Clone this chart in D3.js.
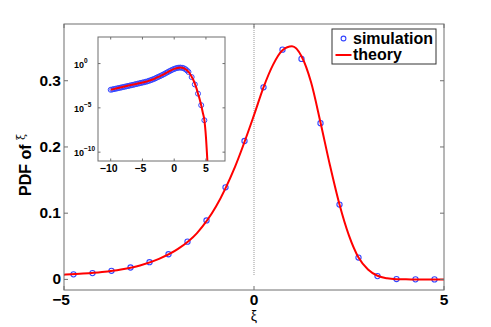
<!DOCTYPE html>
<html>
<head>
<meta charset="utf-8">
<script src="https://cdn.jsdelivr.net/npm/d3@7"></script>
<style>
  body { margin: 0; background: #fff; }
  text { font-family: "Liberation Sans", Arial, sans-serif; }
</style>
</head>
<body>
<div id="chart"></div>
<script>
// theory curve
const theoryXi = [-10, -9, -8, -7, -6, -5, -4.5, -4, -3.5, -3, -2.5, -2, -1.5, -1, -0.5, 0, 0.25, 0.5, 0.75, 1, 1.25, 1.5, 1.75, 2, 2.25, 2.5, 2.75, 3, 3.25, 3.5, 3.75, 4, 4.25, 4.5, 4.75, 5, 5.25];
const theoryPdf = [0.0011, 0.0016, 0.0024, 0.0035, 0.005, 0.0072, 0.0088, 0.0112, 0.015, 0.021, 0.031, 0.046, 0.07, 0.11, 0.17, 0.248, 0.29, 0.324, 0.346, 0.352, 0.337, 0.298, 0.237, 0.172, 0.113, 0.066, 0.033, 0.015, 0.0055, 0.0017, 4e-4, 1e-4, 2e-5, 3e-6, 4e-7, 5e-9, 5e-12];

// simulation, main panel
const simXi = [-4.75, -4.25, -3.75, -3.25, -2.75, -2.25, -1.75, -1.25, -0.75, -0.25, 0.25, 0.75, 1.25, 1.75, 2.25, 2.75, 3.25, 3.75, 4.25, 4.75];
const simPdf = [0.0076, 0.0095, 0.013, 0.018, 0.026, 0.038, 0.057, 0.089, 0.139, 0.209, 0.29, 0.347, 0.333, 0.236, 0.113, 0.033, 0.005, 0.0005, 0.0001, 0.00001];

// simulation, inset (log scale)
const insetXi = [-10, -9.75, -9.5, -9.25, -9, -8.75, -8.5, -8.25, -8, -7.75, -7.5, -7.25, -7, -6.75, -6.5, -6.25, -6, -5.75, -5.5, -5.25, -5, -4.75, -4.5, -4.25, -4, -3.75, -3.5, -3.25, -3, -2.75, -2.5, -2.25, -2, -1.75, -1.5, -1.25, -1, -0.75, -0.5, -0.25, 0, 0.25, 0.5, 0.75, 1, 1.25, 1.5, 1.75, 2, 2.25, 2.75, 3.25, 3.75, 4.25, 4.75];
const insetPdf = [0.0011, 0.0012, 0.00131, 0.00143, 0.00157, 0.00172, 0.00188, 0.00206, 0.00226, 0.00248, 0.00272, 0.00298, 0.00327, 0.0036, 0.00396, 0.00436, 0.0048, 0.0053, 0.0059, 0.0065, 0.0072, 0.0077, 0.0088, 0.0096, 0.0112, 0.013, 0.015, 0.0178, 0.021, 0.026, 0.031, 0.038, 0.046, 0.057, 0.07, 0.089, 0.11, 0.139, 0.17, 0.209, 0.248, 0.29, 0.323, 0.347, 0.352, 0.333, 0.298, 0.236, 0.172, 0.113, 0.03, 0.0044, 0.0004, 0.00002, 0.0000004];

const mainXTicks = [-5, 0, 5];
const mainYTicks = [0, 0.1, 0.2, 0.3];
const insetXTicks = [-10, -5, 0, 5];
const insetYExp = [0, -5, -10];

const width = 491, height = 327;
const svg = d3.select('#chart').append('svg')
  .attr('width', width)
  .attr('height', height);

const axisColor = '#6e6e6e';
const blue = '#3344ff';

// main axes
const m = { left: 64, right: 444, top: 24, bottom: 290 };
const x = d3.scaleLinear().domain([-5, 5]).range([m.left, m.right]);
const y = d3.scaleLinear().domain([-0.016, 0.3857]).range([m.bottom, m.top]);

svg.append('clipPath').attr('id', 'mainClip')
  .append('rect')
  .attr('x', m.left).attr('y', m.top)
  .attr('width', m.right - m.left).attr('height', m.bottom - m.top);

// dotted line at xi = 0
svg.append('line')
  .attr('x1', x(0)).attr('x2', x(0))
  .attr('y1', y(0.3857)).attr('y2', y(0.006))
  .attr('stroke', '#999')
  .attr('stroke-width', 1)
  .attr('stroke-dasharray', '1,1');

const gMain = svg.append('g').attr('clip-path', 'url(#mainClip)');

gMain.selectAll('circle')
  .data(simXi)
  .join('circle')
  .attr('cx', d => x(d))
  .attr('cy', (d, i) => y(simPdf[i]))
  .attr('r', 2.6)
  .attr('fill', 'none')
  .attr('stroke', blue)
  .attr('stroke-width', 1.1);

const mainLine = d3.line()
  .x(d => x(d[0]))
  .y(d => y(d[1]))
  .curve(d3.curveMonotoneX);

gMain.append('path')
  .datum(d3.zip(theoryXi, theoryPdf))
  .attr('d', mainLine)
  .attr('fill', 'none')
  .attr('stroke', '#ff0000')
  .attr('stroke-width', 2);

// main box and ticks
svg.append('rect')
  .attr('x', m.left).attr('y', m.top)
  .attr('width', m.right - m.left).attr('height', m.bottom - m.top)
  .attr('fill', 'none')
  .attr('stroke', axisColor)
  .attr('stroke-width', 1);

const tickLen = 4;
mainXTicks.forEach(t => {
  svg.append('line').attr('x1', x(t)).attr('x2', x(t))
    .attr('y1', m.bottom).attr('y2', m.bottom - tickLen).attr('stroke', axisColor);
  svg.append('line').attr('x1', x(t)).attr('x2', x(t))
    .attr('y1', m.top).attr('y2', m.top + tickLen).attr('stroke', axisColor);
});
mainYTicks.forEach(t => {
  svg.append('line').attr('x1', m.left).attr('x2', m.left + tickLen)
    .attr('y1', y(t)).attr('y2', y(t)).attr('stroke', axisColor);
  svg.append('line').attr('x1', m.right).attr('x2', m.right - tickLen)
    .attr('y1', y(t)).attr('y2', y(t)).attr('stroke', axisColor);
});

svg.append('g').selectAll('text')
  .data(mainXTicks)
  .join('text')
  .attr('x', d => x(d) - (d < 0 ? 3 : 0))
  .attr('y', 305)
  .attr('text-anchor', 'middle')
  .attr('font-size', 15.5)
  .attr('font-weight', 'bold')
  .text(d => d < 0 ? '\u2212' + Math.abs(d) : d);

svg.append('g').selectAll('text')
  .data(mainYTicks)
  .join('text')
  .attr('x', 61)
  .attr('y', d => y(d) + 5)
  .attr('text-anchor', 'end')
  .attr('font-size', 15.5)
  .attr('font-weight', 'bold')
  .text(d => d === 0 ? '0' : d.toFixed(1));

// axis labels
svg.append('text')
  .attr('x', x(0))
  .attr('y', 321)
  .attr('text-anchor', 'middle')
  .attr('font-size', 14)
  .attr('font-family', 'DejaVu Serif, serif')
  .text('ξ');

const yLabel = svg.append('text')
  .attr('transform', 'translate(31,196) rotate(-90)')
  .attr('font-size', 16)
  .attr('font-weight', 'bold');
yLabel.append('tspan').text('PDF of ');
yLabel.append('tspan')
  .attr('dy', -6)
  .attr('font-size', 11)
  .attr('font-weight', 'normal')
  .attr('font-family', 'DejaVu Serif, serif')
  .text('ξ');

// legend
const leg = svg.append('g');
leg.append('rect')
  .attr('x', 332).attr('y', 29)
  .attr('width', 104).attr('height', 35)
  .attr('fill', '#fff')
  .attr('stroke', '#333')
  .attr('stroke-width', 1);
leg.append('circle')
  .attr('cx', 343.5).attr('cy', 38.5).attr('r', 2.4)
  .attr('fill', 'none').attr('stroke', blue).attr('stroke-width', 1.1);
leg.append('line')
  .attr('x1', 335.5).attr('x2', 351.5).attr('y1', 55).attr('y2', 55)
  .attr('stroke', '#ff0000').attr('stroke-width', 2);
leg.append('text')
  .attr('x', 353).attr('y', 43.5)
  .attr('font-size', 16).attr('font-weight', 'bold')
  .text('simulation');
leg.append('text')
  .attr('x', 353).attr('y', 60)
  .attr('font-size', 16).attr('font-weight', 'bold')
  .text('theory');

// inset
const n = { left: 98, right: 225, top: 37, bottom: 161 };
const xi = d3.scaleLinear().domain([-12, 8]).range([n.left, n.right]);
const yi = d3.scaleLog().domain([1e-11, 1e3]).range([n.bottom, n.top]);

svg.append('rect')
  .attr('x', n.left).attr('y', n.top)
  .attr('width', n.right - n.left).attr('height', n.bottom - n.top)
  .attr('fill', '#fff');

svg.append('clipPath').attr('id', 'insetClip')
  .append('rect')
  .attr('x', n.left).attr('y', n.top)
  .attr('width', n.right - n.left).attr('height', n.bottom - n.top);

const gInset = svg.append('g').attr('clip-path', 'url(#insetClip)');

gInset.selectAll('circle')
  .data(insetXi)
  .join('circle')
  .attr('cx', d => xi(d))
  .attr('cy', (d, i) => yi(insetPdf[i]))
  .attr('r', 2.5)
  .attr('fill', 'none')
  .attr('stroke', blue)
  .attr('stroke-width', 1);

const insetLine = d3.line()
  .x(d => xi(d[0]))
  .y(d => yi(d[1]))
  .curve(d3.curveMonotoneX);

gInset.append('path')
  .datum(d3.zip(theoryXi, theoryPdf))
  .attr('d', insetLine)
  .attr('fill', 'none')
  .attr('stroke', '#ff0000')
  .attr('stroke-width', 2);

svg.append('rect')
  .attr('x', n.left).attr('y', n.top)
  .attr('width', n.right - n.left).attr('height', n.bottom - n.top)
  .attr('fill', 'none')
  .attr('stroke', axisColor)
  .attr('stroke-width', 1);

const tickLenIn = 2.5;
insetXTicks.forEach(t => {
  svg.append('line').attr('x1', xi(t)).attr('x2', xi(t))
    .attr('y1', n.bottom).attr('y2', n.bottom - tickLenIn).attr('stroke', axisColor);
  svg.append('line').attr('x1', xi(t)).attr('x2', xi(t))
    .attr('y1', n.top).attr('y2', n.top + tickLenIn).attr('stroke', axisColor);
});
insetYExp.forEach(e => {
  const v = Math.pow(10, e);
  svg.append('line').attr('x1', n.left).attr('x2', n.left + tickLenIn)
    .attr('y1', yi(v)).attr('y2', yi(v)).attr('stroke', axisColor);
  svg.append('line').attr('x1', n.right).attr('x2', n.right - tickLenIn)
    .attr('y1', yi(v)).attr('y2', yi(v)).attr('stroke', axisColor);
});

svg.append('g').selectAll('text')
  .data(insetXTicks)
  .join('text')
  .attr('x', d => xi(d) - (d < 0 ? 2 : 0))
  .attr('y', 172)
  .attr('text-anchor', 'middle')
  .attr('font-size', 10.5)
  .attr('font-weight', 'bold')
  .text(d => d < 0 ? '\u2212' + Math.abs(d) : d);

const yiLabels = svg.append('g').selectAll('text')
  .data(insetYExp)
  .join('text')
  .attr('x', 74)
  .attr('y', d => yi(Math.pow(10, d)) + 4)
  .attr('font-size', 9)
  .attr('font-weight', 'bold');
yiLabels.append('tspan').text('10');
yiLabels.append('tspan')
  .attr('dy', -5)
  .attr('font-size', 6.5)
  .text(d => d < 0 ? '\u2212' + Math.abs(d) : d);
</script>
</body>
</html>
